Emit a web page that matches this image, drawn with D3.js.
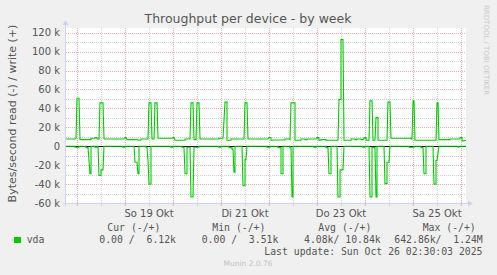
<!DOCTYPE html>
<html lang="de">
<head>
<meta charset="UTF-8">
<title>Throughput per device - by week</title>
<script src="https://d3js.org/d3.v7.min.js"></script>
<style>
  body { margin: 0; background: #f0f0f0; }
  svg { display: block; }
  .mono { font-family: "DejaVu Sans Mono", monospace; white-space: pre; }
</style>
</head>
<body>
<div id="chart"></div>
<script>
// graph window: 200 hours ending at last update
const start = new Date(2025, 9, 17, 18, 30);
const end = new Date(2025, 9, 26, 2, 30);

// write (+) in k bytes/s, [hours since start, value]
const writeData = [
  [0, 7.7], [4.5, 7.7], [5, 8.5], [5.5, 50.8], [6.5, 50.8], [7, 7.0], [12.5, 7.0], [12.5, 8.4],
  [14.5, 8.4], [14.5, 9.1], [15.5, 9.1], [15.5, 7.7], [16.5, 7.7], [17, 45.8], [18.5, 45.8], [19, 7.7],
  [29, 7.7], [29.5, 9.1], [30, 9.1], [30.5, 7.0], [35.5, 7.0], [36.5, 6.3], [37.5, 6.3], [37.5, 7.7],
  [41, 7.7], [41.5, 45.8], [42.5, 45.8], [43, 7.7], [44, 7.7], [44.5, 45.8], [45.5, 45.8], [46, 8.4],
  [53, 8.4], [53.5, 9.1], [54, 9.1], [54.5, 6.3], [59.5, 6.3], [59.5, 7.7], [62, 7.7], [62.5, 45.8],
  [63.5, 45.8], [64, 7.0], [65, 7.0], [65.5, 45.8], [66.5, 45.8], [67, 7.7], [76.5, 7.7], [76.5, 8.4],
  [78.5, 8.4], [79.5, 46.6], [80.5, 46.6], [80.5, 6.3], [82.5, 6.3], [82.5, 7.7], [89, 7.7], [89.5, 45.8],
  [90.5, 45.8], [91, 7.7], [101, 7.7], [101.5, 9.3], [102.5, 9.3], [102.5, 6.3], [103.5, 6.3], [103.5, 6.6],
  [109.5, 6.6], [109.5, 7.7], [111.5, 7.7], [112, 7.0], [112.5, 45.8], [114.5, 45.8], [114.5, 6.3], [117.5, 6.3],
  [117.5, 7.7], [119.5, 7.7], [119.5, 7.0], [120.5, 7.0], [120.5, 7.7], [125.5, 7.7], [125.5, 9.1], [126.5, 9.1],
  [126.5, 6.3], [127.5, 6.3], [127.5, 7.0], [130, 7.0], [130, 6.3], [136, 6.3], [136.5, 49.4], [137.5, 49.4],
  [137.5, 112.9], [138.5, 112.9], [139, 6.3], [142.5, 6.3], [142.5, 7.7], [144.5, 7.7], [144.5, 7.0], [145.5, 7.0],
  [145.5, 7.7], [147.5, 7.7], [147.5, 7.0], [148.5, 7.0], [148.5, 7.7], [149, 7.7], [149, 9.1], [150, 9.1],
  [150, 6.3], [151.5, 6.3], [152, 48], [153, 48], [153.5, 6.3], [154.5, 6.3], [155, 30.3], [156, 30.3],
  [156, 6.3], [160.5, 6.3], [161, 46.6], [162, 46.6], [162.5, 8.4], [172.5, 8.4], [172.5, 7.7], [173, 7.7],
  [173.5, 48], [174, 48], [174.5, 6.3], [185, 6.3], [185.5, 45.8], [186, 45.8], [186.5, 7.0], [192, 7.0],
  [192, 7.7], [197, 7.7], [197, 9.1], [198, 9.1], [198, 5.5], [199, 5.5], [199, 6.1], [200, 6.1]
];

// read (-) in k bytes/s, drawn below zero
const readData = [
  [0, 0], [4.5, 0], [4.5, -1], [6.5, -1], [6.5, 0], [10, 0], [10, -1.5], [11, -1.5], [12, -29], [12.5, -29],
  [12.5, 0], [14.5, 0], [14.5, -1], [15.5, -1], [15.5, 0], [16, 0], [16.5, -31], [17.5, -31], [17.5, -25],
  [18.5, -25], [19, 0], [28.5, 0], [28.5, -1], [29.5, -1], [29.5, 0], [34, 0], [34.5, -17], [35.5, -17],
  [36, -29], [36.5, -29], [36.5, 0], [40, 0], [40, -1], [40.5, -1], [41, -15], [41.5, -40], [42.5, -40],
  [42.5, 0], [52.5, 0], [52.5, -1], [53.5, -1], [53.5, 0], [58, 0], [58, -1], [59, -1], [59.5, -29],
  [60.5, -29], [60.5, -1], [62, -1], [62.5, -53.7], [63.5, -53.7], [64, -1], [66.5, -1], [66.5, 0],
  [76.5, 0], [76.5, -1], [77.5, -1], [77.5, 0], [81.5, 0], [81.5, -1.5], [83, -1.5], [83, -3], [83.5, -3],
  [84, -27.5], [84.5, -27.5], [84.5, 0], [88, 0], [88.5, -41.7], [89.5, -41.7], [89.5, -14], [90, -14],
  [90.5, 0], [100.5, 0], [100.5, -1], [102, -1], [102, 0], [106, 0], [106, -1.5], [107.5, -1.5],
  [107.5, -29], [108.5, -29], [108.5, 0], [112, 0], [112, -1.5], [112.5, -1.5], [113, -53.7], [113.5, -53.7],
  [113.5, 0], [124, 0], [124, -1], [125, -1], [125, 0], [130, 0], [130, -1.5], [131, -1.5], [131.5, -29],
  [132.5, -29], [132.5, 0], [135.5, 0], [136, -53.7], [137, -53.7], [137, -25], [138.5, -25], [139, 0],
  [148.5, 0], [148.5, -1], [149.5, -1], [149.5, 0], [151.5, 0], [152, -53.7], [153, -53.7], [153, -1],
  [154, -1], [154, -1.5], [154.5, -1.5], [155, -53.7], [155.5, -53.7], [155.5, 0], [159, 0], [159.5, -39.5],
  [160.5, -39.5], [160.5, -17], [161.5, -17], [162, 0], [171.5, 0], [171.5, -1], [174, -1], [174, 0],
  [177.5, 0], [177.5, -1.5], [178.5, -1.5], [179, -29], [180, -29], [180, 0], [183.5, 0], [184, -40],
  [185, -40], [185, -15], [185.5, -15], [186.5, 0], [196, 0], [196, -1], [196.5, -1], [196.5, 0], [200, 0]
];

const yTicks = [-60, -40, -20, 0, 20, 40, 60, 80, 100, 120];
const xLabelDays = [new Date(2025, 9, 19, 12), new Date(2025, 9, 21, 12), new Date(2025, 9, 23, 12), new Date(2025, 9, 25, 12)];
const legendHeads = ["Cur (-/+)", "Min (-/+)", "Avg (-/+)", "Max (-/+)"];
const legendValues = ["0.00 /  6.12k", "0.00 /  3.51k", "4.08k/ 10.84k", "642.86k/  1.24M"];

const W = 497, H = 275;
const plotL = 66, plotR = 466, plotT = 28, plotB = 203;

const svg = d3.select("#chart").append("svg")
  .attr("width", W).attr("height", H)
  .attr("font-family", "'DejaVu Sans', sans-serif");

svg.append("rect").attr("width", W).attr("height", H).attr("fill", "#f0f0f0");

const x = d3.scaleTime().domain([start, end]).range([plotL, plotR]);
const y = d3.scaleLinear().domain([-60, 125]).range([plotB, plotT]);
const toDate = h => new Date(start.getTime() + h * 3600e3);

svg.append("rect")
  .attr("x", plotL).attr("y", plotT)
  .attr("width", plotR - plotL).attr("height", plotB - plotT)
  .attr("fill", "#fff");

// grid
const minorCol = "#d2d2d2", majorCol = "#eeb0b0";
const grid = svg.append("g").attr("shape-rendering", "crispEdges").attr("stroke-dasharray", "1,1");
grid.selectAll(".hmin").data(d3.range(-50, 125, 10).filter(v => v % 20 !== 0))
  .join("line")
  .attr("x1", plotL).attr("x2", plotR)
  .attr("y1", d => Math.round(y(d)) + 0.5).attr("y2", d => Math.round(y(d)) + 0.5)
  .attr("stroke", minorCol);
grid.selectAll(".vmin").data(d3.timeHour.every(12).range(start, end).filter(d => d.getHours() === 12))
  .join("line")
  .attr("y1", plotT).attr("y2", plotB)
  .attr("x1", d => Math.round(x(d)) + 0.5).attr("x2", d => Math.round(x(d)) + 0.5)
  .attr("stroke", minorCol);
grid.selectAll(".hmaj").data(yTicks)
  .join("line")
  .attr("x1", plotL).attr("x2", plotR)
  .attr("y1", d => Math.round(y(d)) + 0.5).attr("y2", d => Math.round(y(d)) + 0.5)
  .attr("stroke", majorCol);
grid.selectAll(".vmaj").data(d3.timeDay.range(start, end))
  .join("line")
  .attr("y1", plotT).attr("y2", plotB)
  .attr("x1", d => Math.round(x(d)) + 0.5).attr("x2", d => Math.round(x(d)) + 0.5)
  .attr("stroke", majorCol);

// zero rule
svg.append("line")
  .attr("x1", plotL).attr("x2", plotR)
  .attr("y1", Math.round(y(0)) + 0.5).attr("y2", Math.round(y(0)) + 0.5)
  .attr("stroke", "#000").attr("shape-rendering", "crispEdges");

const line = d3.line().x(d => x(toDate(d[0]))).y(d => y(d[1]));
svg.append("path").datum(readData)
  .attr("d", line).attr("fill", "none").attr("stroke", "#00cc00").attr("stroke-width", 1.1);
svg.append("path").datum(writeData)
  .attr("d", line).attr("fill", "none").attr("stroke", "#00cc00").attr("stroke-width", 1.1);

// axes
const axisColor = "#cdd3f5";
svg.append("line").attr("x1", plotL - 0.5).attr("x2", plotL - 0.5).attr("y1", plotB + 3).attr("y2", plotT - 4)
  .attr("stroke", axisColor);
svg.append("path").attr("d", `M${plotL - 3.5},${plotT - 3} L${plotL + 2.5},${plotT - 3} L${plotL - 0.5},${plotT - 8} Z`)
  .attr("fill", axisColor);
svg.append("line").attr("x1", plotL - 3).attr("x2", plotR + 3).attr("y1", plotB + 0.5).attr("y2", plotB + 0.5)
  .attr("stroke", axisColor);
svg.append("path").attr("d", `M${plotR + 2},${plotB - 2.5} L${plotR + 2},${plotB + 3.5} L${plotR + 7},${plotB + 0.5} Z`)
  .attr("fill", axisColor);

// x ticks
svg.append("g").selectAll("line").data(d3.timeHour.every(12).range(start, end))
  .join("line")
  .attr("x1", d => Math.round(x(d)) + 0.5).attr("x2", d => Math.round(x(d)) + 0.5)
  .attr("y1", plotB - 1).attr("y2", plotB + 3)
  .attr("stroke", d => d.getHours() === 0 ? majorCol : minorCol);

const dayNames = ["So", "Mo", "Di", "Mi", "Do", "Fr", "Sa"];
svg.append("g").selectAll("text").data(xLabelDays)
  .join("text")
  .attr("x", d => x(d)).attr("y", 216.5)
  .attr("text-anchor", "middle").attr("font-size", 10).attr("fill", "#555")
  .text(d => `${dayNames[d.getDay()]} ${d.getDate()} Okt`);

svg.append("g").selectAll("text").data(yTicks)
  .join("text")
  .attr("x", 60).attr("y", d => y(d) + 3.5)
  .attr("text-anchor", "end").attr("font-size", 10).attr("fill", "#555")
  .text(d => d === 0 ? "0" : `${d} k`);

// titles
svg.append("text").attr("x", 248).attr("y", 22.5).attr("text-anchor", "middle")
  .attr("font-size", 12.5).attr("fill", "#555").text("Throughput per device - by week");
svg.append("text").attr("transform", "translate(16,113.5) rotate(-90)").attr("text-anchor", "middle")
  .attr("font-size", 11).attr("fill", "#555").text("Bytes/second read (-) / write (+)");
svg.append("text").attr("transform", "translate(484,5) rotate(90)")
  .attr("font-size", 7).attr("fill", "#c8c8c8").text("RRDTOOL / TOBI OETIKER");

// legend
const headX = [107.3, 212.3, 318.3, 422.7];
const valX = [99.3, 201.7, 304, 394.3];
svg.append("g").selectAll("text").data(legendHeads)
  .join("text").attr("class", "mono")
  .attr("x", (d, i) => headX[i]).attr("y", 230.5)
  .attr("font-size", 9.8).attr("fill", "#555").text(d => d);
svg.append("rect").attr("x", 14).attr("y", 237).attr("width", 7).attr("height", 6).attr("fill", "#00cc00");
svg.append("text").attr("class", "mono").attr("x", 26.7).attr("y", 243.3)
  .attr("font-size", 9.8).attr("fill", "#555").text("vda");
svg.append("g").selectAll("text").data(legendValues)
  .join("text").attr("class", "mono")
  .attr("x", (d, i) => valX[i]).attr("y", 243.3)
  .attr("font-size", 9.8).attr("fill", "#555").text(d => d);
svg.append("text").attr("class", "mono").attr("x", 482.5).attr("y", 255).attr("text-anchor", "end")
  .attr("font-size", 9.8).attr("fill", "#555").text("Last update: Sun Oct 26 02:30:03 2025");
svg.append("text").attr("x", 248).attr("y", 265.5).attr("text-anchor", "middle")
  .attr("font-size", 7.5).attr("fill", "#c0c0c0").text("Munin 2.0.76");
</script>
</body>
</html>
